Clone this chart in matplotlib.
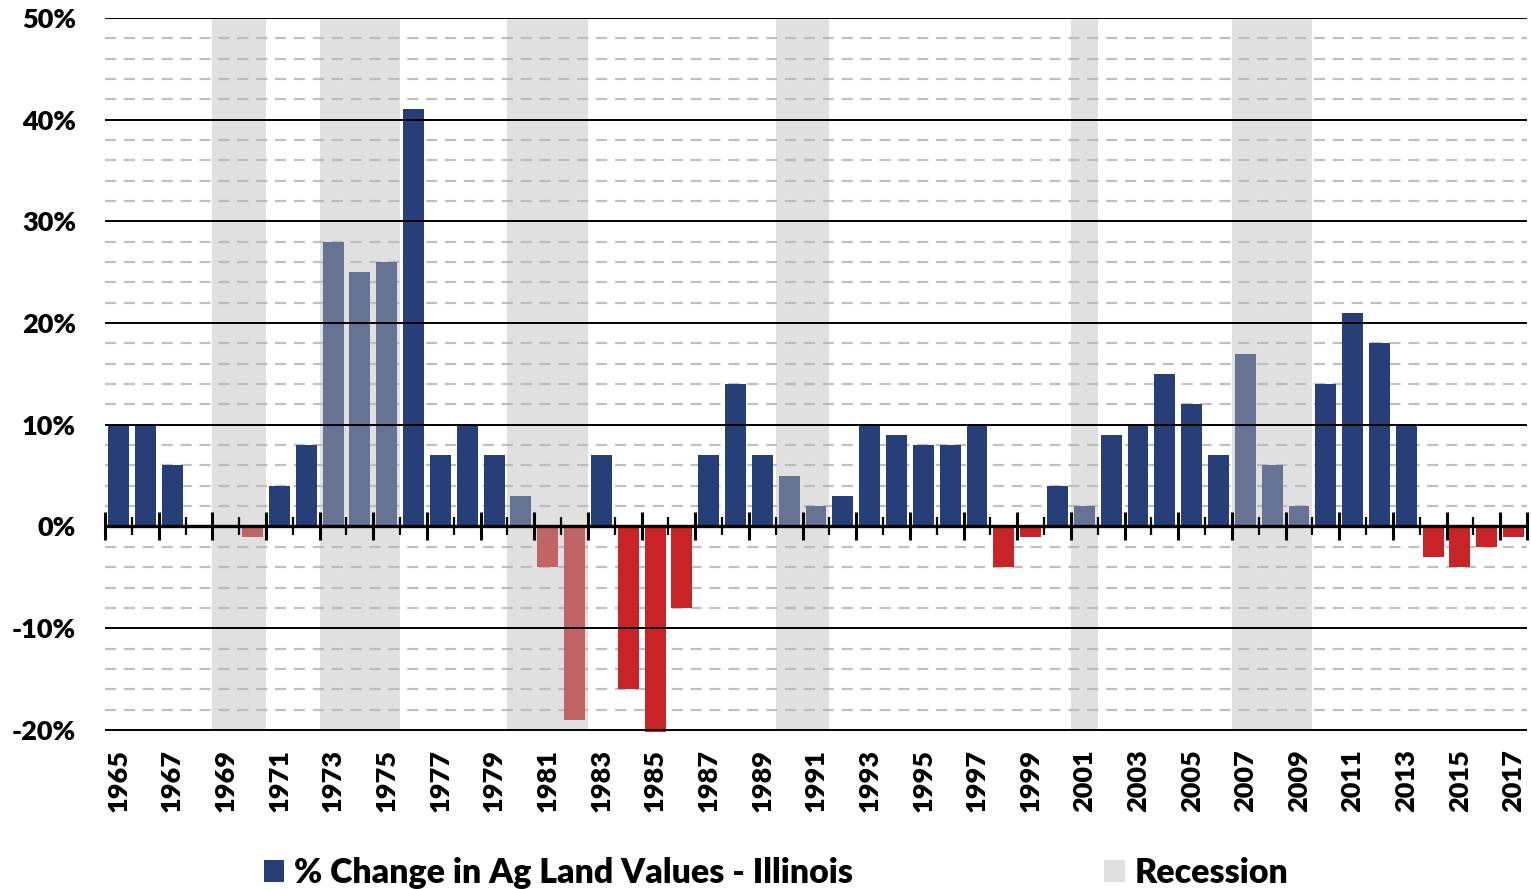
import matplotlib
matplotlib.use("Agg")
import matplotlib.pyplot as plt
from matplotlib.patches import Patch
from matplotlib.ticker import FuncFormatter, MultipleLocator

plt.rcParams['font.family'] = ['Lato', 'DejaVu Sans']
plt.rcParams['font.weight'] = 'heavy'

# annual % change in Illinois farmland values
years = list(range(1965, 2018))
pct_change = [
    10, 10, 6, 0, 0, -1, 4, 8, 28, 25,
    26, 41, 7, 10, 7, 3, -4, -19, 7, -16,
    -20.2, -8, 7, 14, 7, 5, 2, 3, 10, 9,
    8, 8, 10, -4, -1, 4, 2, 9, 10, 15,
    12, 7, 17, 6, 2, 14, 21, 18, 10, -3,
    -4, -2, -1,
]
recession_years = [1969, 1970, 1973, 1974, 1975, 1980, 1981, 1982,
                   1990, 1991, 2001, 2007, 2008, 2009]

BLUE = '#273f79'
RED = '#c82428'
SHADE = '#b8b8b8'

fig = plt.figure(figsize=(15.31, 8.89), dpi=100)
ax = fig.add_axes([0.0686, 0.1744, 0.9288, 0.8054])

ymin, ymax = -20.4, 50
ax.set_xlim(years[0] - 0.5, years[-1] + 0.5)
ax.set_ylim(ymin, ymax)

colors = [BLUE if v >= 0 else RED for v in pct_change]
ax.bar(years, pct_change, width=0.78, color=colors, zorder=2)

# recession bands drawn translucent over the bars
ax.bar(recession_years, [70] * len(recession_years), bottom=-20, width=1.0,
       color=SHADE, alpha=0.435, linewidth=0, zorder=3)

# gridlines
for y in range(-20, 51, 2):
    if y % 10 == 0:
        ax.axhline(y, color='black', lw=1.4, zorder=4)
    else:
        ax.axhline(y, color='#c0c0c0', lw=1.6, ls=(0, (5, 3.5)), zorder=1)
ax.axhline(0, color='black', lw=2.4, zorder=5)

for s in ax.spines.values():
    s.set_visible(False)

ax.yaxis.set_major_locator(MultipleLocator(10))
ax.yaxis.set_major_formatter(FuncFormatter(lambda v, _: f'{v:.0f}%'))
ax.tick_params(axis='y', length=0, pad=21, labelsize=19.5)

ax.set_xticks(years[::2])
ax.set_xticklabels([str(y) for y in years[::2]], rotation=90)
ax.tick_params(axis='x', length=0, pad=11, labelsize=19.5)

# category boundary ticks on the zero line
zero_pos = (0 - ymin) / (ymax - ymin)
sec = ax.secondary_xaxis(zero_pos)
sec.spines['bottom'].set_visible(False)
sec.set_xticks([y - 0.5 for y in years[::2]] + [years[-1] + 0.5])
sec.set_xticks([y + 0.5 for y in years[::2][:-1]], minor=True)
sec.tick_params(axis='x', which='major', direction='inout', length=20, width=2.2,
                labelbottom=False, labeltop=False)
sec.tick_params(axis='x', which='minor', direction='inout', length=13, width=1.6,
                labelbottom=False, labeltop=False)
sec.set_zorder(6)

handles = [Patch(facecolor=BLUE, label='% Change in Ag Land Values - Illinois'),
           Patch(facecolor='#e0e0e0', label='Recession')]
fig.legend(handles=handles, loc='lower center', bbox_to_anchor=(0.507, -0.034),
           ncol=2, frameon=False, fontsize=24.4, handlelength=0.6, handleheight=0.6,
           handletextpad=0.3, columnspacing=7.4)

fig.savefig('out.png', dpi=100)
